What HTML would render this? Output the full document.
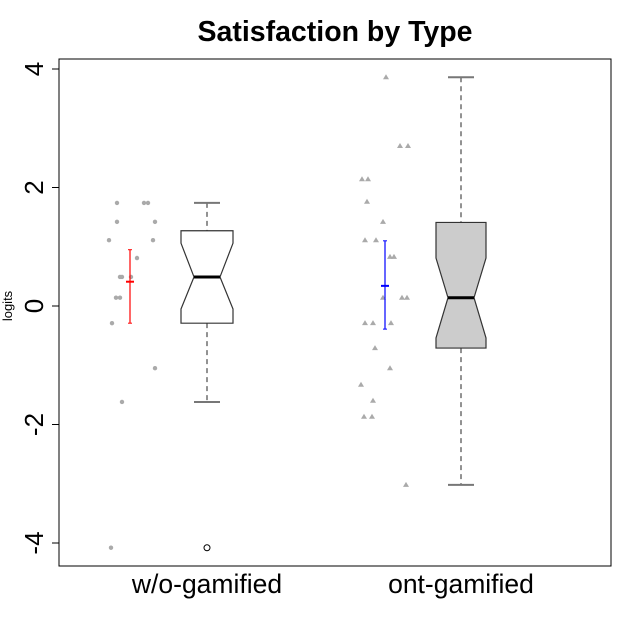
<!DOCTYPE html>
<html><head><meta charset="utf-8"><style>body{margin:0;background:#fff}svg{display:block;font-family:"Liberation Sans",sans-serif}</style></head>
<body>
<svg id="c" width="640" height="640"></svg>
<script>
const categories=["w/o-gamified","ont-gamified"];
const yTicks=[-4,-2,0,2,4];
const pts1=[1.74,1.74,1.74,1.42,1.42,1.11,1.11,0.81,0.49,0.49,0.49,0.14,0.14,-0.29,-1.05,-1.62,-4.08];
const jit1=[117,144,148,117,155,109,153,137,120,122,131,116,120,112,155,122,111];
const pts2=[3.86,2.70,2.70,2.14,2.14,1.76,1.42,1.11,1.11,0.83,0.83,0.14,0.14,0.14,-0.29,-0.29,-0.29,-0.71,-1.05,-1.33,-1.60,-1.87,-1.87,-3.02];
const jit2=[386,400,408,362,368,367,383,365,376,390,394,383,402,407,365,373,391,375,390,361,373,364,372,406];
const boxStats=[[-1.62,-0.29,0.49,1.27,1.74],[-3.02,-0.71,0.14,1.41,3.86]];
const notches=[[-0.05,1.06],[-0.54,0.81]];
const outliers=[[-4.08],[]];
const means=[[0.41,-0.29,0.95],[0.34,-0.39,1.10]];
const NS="http://www.w3.org/2000/svg",s=document.getElementById('c');
const y=v=>306-v*59.25;
function el(t,a,name,p){const e=document.createElementNS(NS,t);for(const k in a)e.setAttribute(k,a[k]);


(p||s).appendChild(e);return e;}
el('rect',{x:59,y:59,width:552,height:507,fill:'none',stroke:'#000'},'plot-frame');
el('text',{x:335,y:41,'text-anchor':'middle','font-size':28.5,'font-weight':'bold'},'chart-title').textContent='Satisfaction by Type';
el('text',{x:0,y:0,transform:'translate(12,306) rotate(-90)','text-anchor':'middle','font-size':13},'y-axis-title').textContent='logits';
el('line',{x1:59,x2:59,y1:y(-4),y2:y(4),stroke:'#000'},'y-axis');
yTicks.forEach(t=>{el('line',{x1:52,x2:59,y1:y(t),y2:y(t),stroke:'#000'},'y-tick');
el('text',{x:0,y:0,transform:`translate(43,${y(t)}) rotate(-90)`,'text-anchor':'middle','font-size':26},'y-tick-label').textContent=t;});
const centers=[207,461],half=[26,25],ninset=[13,13];
categories.forEach((c,i)=>{el('text',{x:centers[i],y:593,'text-anchor':'middle','font-size':26.5},'x-label').textContent=c;});
[[pts1,jit1,'circle'],[pts2,jit2,'tri']].forEach(([p,j,sh],g)=>p.forEach((v,k)=>{
 if(sh==='circle')el('circle',{cx:j[k],cy:y(v),r:2.2,fill:'#aaa'},'jitter-point');
 else{const cx=j[k],cy=y(v);el('polygon',{points:`${cx-3},${cy+2} ${cx+3},${cy+2} ${cx},${cy-3}`,fill:'#aaa'},'jitter-point');}}));
boxStats.forEach((b,i)=>{const cx=centers[i],h=half[i],ni=ninset[i];
 el('line',{x1:cx,x2:cx,y1:y(b[4]),y2:y(b[3]),stroke:'#777','stroke-width':1.6,'stroke-dasharray':'5,4'},'upper-whisker');
 el('line',{x1:cx,x2:cx,y1:y(b[1]),y2:y(b[0]),stroke:'#777','stroke-width':1.6,'stroke-dasharray':'5,4'},'lower-whisker');
 el('line',{x1:cx-13,x2:cx+13,y1:y(b[4]),y2:y(b[4]),stroke:'#777','stroke-width':2},'whisker-cap');
 el('line',{x1:cx-13,x2:cx+13,y1:y(b[0]),y2:y(b[0]),stroke:'#777','stroke-width':2},'whisker-cap');
 const L=cx-h,R=cx+h,n=notches[i];
 el('polygon',{points:`${L},${y(b[3])} ${R},${y(b[3])} ${R},${y(n[1])} ${cx+ni},${y(b[2])} ${R},${y(n[0])} ${R},${y(b[1])} ${L},${y(b[1])} ${L},${y(n[0])} ${cx-ni},${y(b[2])} ${L},${y(n[1])}`,fill:i?'#cccccc':'#fff',stroke:'#333','stroke-width':1.2},'box');
 el('line',{x1:cx-ni,x2:cx+ni,y1:y(b[2]),y2:y(b[2]),stroke:'#000','stroke-width':3},'median-line');
 outliers[i].forEach(o=>el('circle',{cx:cx,cy:y(o),r:3,fill:'none',stroke:'#000'},'outlier'));
});
const ebx=[130,385],ebc=['red','blue'];
means.forEach((m,i)=>{const x=ebx[i];
 el('line',{x1:x,x2:x,y1:y(m[2]),y2:y(m[1]),stroke:ebc[i],'stroke-width':1.2},'error-bar');
 el('line',{x1:x-2,x2:x+2,y1:y(m[2]),y2:y(m[2]),stroke:ebc[i]},'error-cap');
 el('line',{x1:x-2,x2:x+2,y1:y(m[1]),y2:y(m[1]),stroke:ebc[i]},'error-cap');
 el('line',{x1:x-4,x2:x+4,y1:y(m[0]),y2:y(m[0]),stroke:ebc[i],'stroke-width':2},'mean-marker');
});
</script>
</body></html>
